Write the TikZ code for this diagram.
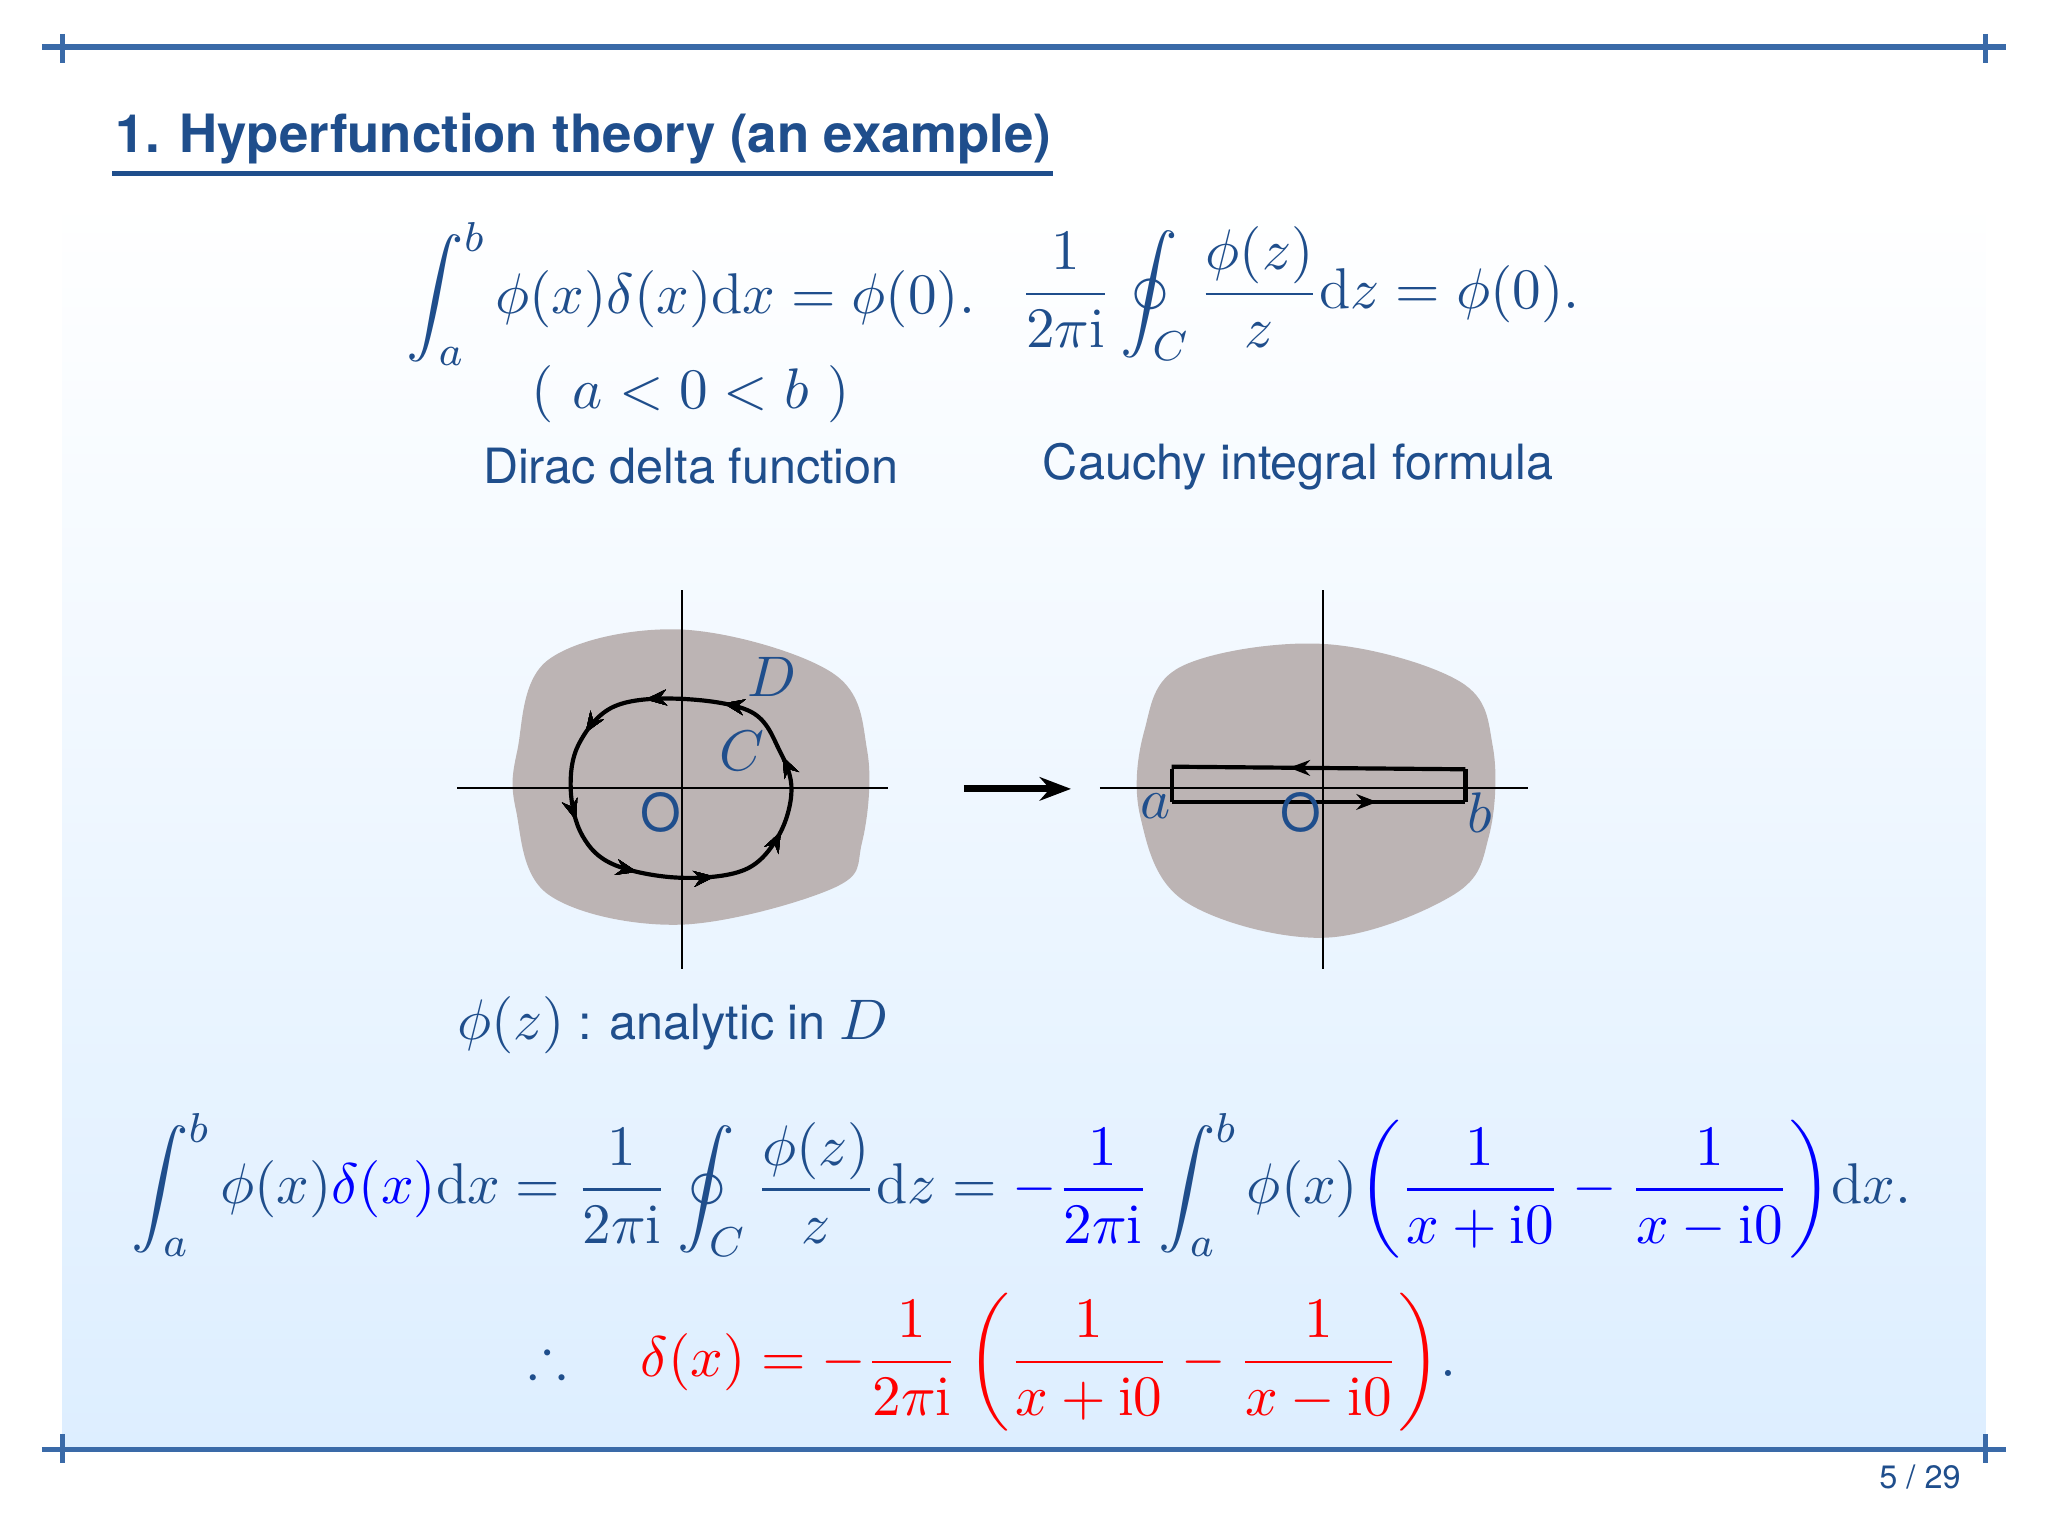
\documentclass[tikz,border=0pt]{standalone}
\usepackage{fontspec}
\setsansfont{TeX Gyre Heros}
\usepackage{amsmath,amssymb}
\usetikzlibrary{decorations.markings,arrows.meta}
\definecolor{frame}{HTML}{3A6AA8}
\definecolor{ttl}{HTML}{1F4E8C}
\definecolor{blob}{HTML}{BCB4B4}
\definecolor{bgb}{HTML}{DDEEFF}
\tikzset{
  mth/.style={font=\fontsize{11}{13}\selectfont, anchor=center},
  sf/.style={font=\sffamily\fontsize{9.3}{11}\selectfont, text=ttl},
  ax/.style={line width=0.4pt},
  midarr/.style={postaction={decorate},decoration={markings,
    mark=at position #1 with {\arrow{Stealth[length=4pt]}}}},
}
\begin{document}
\begin{tikzpicture}[x=0.25pt,y=-0.25pt]
\useasboundingbox (0,0) rectangle (1568,1176);
\fill[white] (0,0) rectangle (1568,1176);
\shade[top color=white,bottom color=bgb] (48,150) rectangle (1520,1110);
\fill[white] (48,36) rectangle (1520,150);
% frame lines
\draw[frame,line width=1pt] (32,36) -- (1536,36) (48,26)--(48,48) (1520,26)--(1520,48);
\draw[frame,line width=1pt] (32,1110) -- (1536,1110) (48,1098)--(48,1120) (1520,1098)--(1520,1120);
\node[anchor=base west,font=\sffamily\bfseries\fontsize{10.1}{12}\selectfont,text=ttl,inner sep=0] (title) at (88,117) {1. Hyperfunction theory (an example)};
\draw[ttl,line width=1pt] (86,133) -- (806,133);
\node[sf,font=\sffamily\fontsize{6.2}{7}\selectfont] (pg) at (1470,1131) {5 / 29};
% top formulas
\node[mth,text=ttl] (f1) at (529,225) {$\displaystyle\int_a^b \phi(x)\delta(x)\mathrm{d}x=\phi(0).$};
\node[mth,text=ttl] (f2) at (995,225) {$\displaystyle\frac{1}{2\pi\mathrm{i}}\oint_C\frac{\phi(z)}{z}\mathrm{d}z=\phi(0).$};
\node[mth,text=ttl] (ab) at (529,302) {$(\ a<0<b\ )$};
\node[sf] (dd) at (529,357) {Dirac delta function};
\node[sf] (ci) at (994,357) {Cauchy integral formula};
% left diagram
\fill[blob] plot[smooth cycle,tension=0.6] coordinates {(396,575)(420,505)(522,482)(637,515)(664,575)(660,645)(638,680)(520,708)(420,685)(395,620)};
\draw[ax] (350,603)--(680,603) (522,452)--(522,742);
\draw[line width=0.8pt,midarr/.list={0.06,0.2,0.33,0.45,0.58,0.7,0.83,0.95}] plot[smooth cycle,tension=0.6] coordinates {(520,535)(470,541)(443,570)(437,605)(446,640)(470,662)(520,672)(570,666)(596,640)(606,605)(597,575)(575,545)};
\node[mth,text=ttl] (D) at (591,518) {$D$};
\node[mth,text=ttl] (C) at (568,575) {$C$};
\node[sf,font=\sffamily\fontsize{10}{12}\selectfont] (O1) at (506,622) {O};
% arrow
\draw[-{Stealth[length=6pt]},line width=1.3pt] (738,604) -- (820,604);
% right diagram
\fill[blob] plot[smooth cycle,tension=0.6] coordinates {(876,560)(905,510)(1013,493)(1118,522)(1143,572)(1140,640)(1113,685)(1013,718)(907,690)(873,625)};
\draw[ax] (842,603)--(1170,603) (1013,452)--(1013,742);
\draw[line width=0.8pt] (897,589) -- (897,614);
\draw[line width=0.8pt,midarr=0.7] (897,614) -- (1122,614);
\draw[line width=0.8pt] (1122,614) -- (1122,589);
\draw[line width=0.8pt,midarr=0.6] (1122,589) -- (897,587);
\node[mth,text=ttl] (a) at (885,617) {$a$};
\node[mth,text=ttl] (b) at (1133,622) {$b$};
\node[sf,font=\sffamily\fontsize{10}{12}\selectfont] (O2) at (996,622) {O};
\node[sf] (an) at (515,785) {\fontsize{11}{13}\selectfont$\phi(z)$\fontsize{9.3}{11}\selectfont{} : analytic in \fontsize{11}{13}\selectfont$D$};
% bottom formulas
\node[mth,text=ttl] (f3) at (782,908) {$\displaystyle\int_a^b \phi(x){\color{blue}\delta(x)}\mathrm{d}x=\frac{1}{2\pi\mathrm{i}}\oint_C\frac{\phi(z)}{z}\mathrm{d}z={\color{blue}-\frac{1}{2\pi\mathrm{i}}}\int_a^b\phi(x){\color{blue}\left(\frac{1}{x+\mathrm{i}0}-\frac{1}{x-\mathrm{i}0}\right)}\mathrm{d}x.$};
\node[mth,text=ttl] (f4) at (760,1043) {$\displaystyle\therefore\quad{\color{red}\delta(x)=-\frac{1}{2\pi\mathrm{i}}\left(\frac{1}{x+\mathrm{i}0}-\frac{1}{x-\mathrm{i}0}\right)}.$};
\end{tikzpicture}
\end{document}
